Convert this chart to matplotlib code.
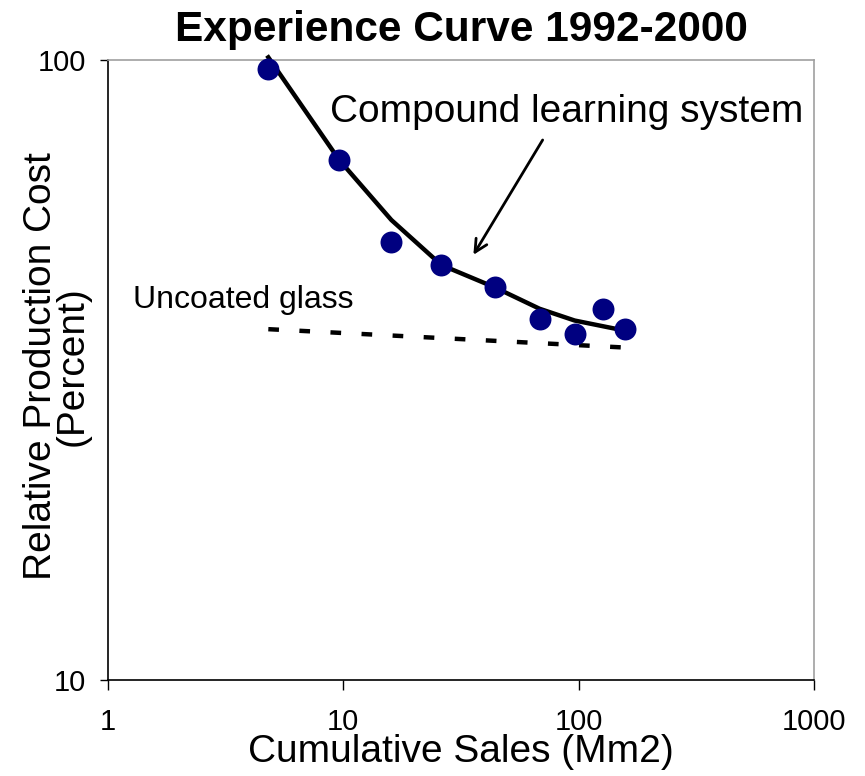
import matplotlib
matplotlib.use("Agg")
import matplotlib.pyplot as plt

plt.rcParams['font.family'] = ['Liberation Sans', 'DejaVu Sans']

# Data
sales_pts = [4.8, 9.6, 16.0, 26.1, 43.9, 68.2, 96.2, 126.5, 157.0]
cost_pts = [96.7, 69.0, 50.9, 46.7, 43.0, 38.2, 36.1, 39.7, 36.8]

curve_sales = [4.8, 9.6, 16.0, 26.1, 43.9, 68.2, 96.2, 157.0]
curve_cost = [101.0, 69.0, 55.2, 46.7, 43.0, 39.7, 38.0, 36.6]

glass_sales = [4.8, 151.0]
glass_cost = [36.8, 34.4]

xticks = [1, 10, 100, 1000]
yticks = [10, 100]

W, H = 865, 776
fig = plt.figure(figsize=(W / 100, H / 100), dpi=100)
ax = fig.add_axes([108 / W, 1 - 680 / H, (814 - 108) / W, (680 - 60) / H])

ax.set_xscale('log')
ax.set_yscale('log')
ax.set_xlim(1, 1000)
ax.set_ylim(10, 100)

ax.plot(curve_sales, curve_cost, color='black', lw=3.2, solid_joinstyle='miter',
        clip_on=False, zorder=2)
ax.plot(glass_sales, glass_cost, color='black', lw=3.2, dashes=(2.4, 4.6),
        zorder=2)
ax.plot(sales_pts, cost_pts, 'o', color='#000080', markersize=15.8,
        markeredgewidth=0, clip_on=False, zorder=3)

ax.text(8.81, 79.4, 'Compound learning system', fontsize=28, ha='left',
        va='baseline')
ax.annotate('', xy=(35.7, 48.5), xytext=(70.3, 74.3),
            arrowprops=dict(arrowstyle='->,head_length=0.9,head_width=0.45',
                            color='black', lw=2.0, shrinkA=0, shrinkB=0))
ax.text(1.28, 39.8, 'Uncoated glass', fontsize=23, ha='left', va='baseline')

ax.set_xticks(xticks)
ax.set_xticklabels([str(v) for v in xticks])
ax.set_yticks(yticks)
ax.set_yticklabels([str(v) for v in yticks])
ax.minorticks_off()
ax.tick_params(axis='x', direction='out', length=7, width=1, pad=13,
               labelsize=21)
ax.tick_params(axis='y', direction='out', length=6, width=1, pad=10,
               labelsize=21)

for s in ['left', 'bottom']:
    ax.spines[s].set_color('black')
    ax.spines[s].set_linewidth(1.2)
for s in ['top', 'right']:
    ax.spines[s].set_color('#a0a0a0')
    ax.spines[s].set_linewidth(1.2)

ax.set_title('Experience Curve 1992-2000', fontsize=30.5, fontweight='bold', pad=14)
ax.set_xlabel('Cumulative Sales (Mm2)', fontsize=28, labelpad=-1)
fig.text(57 / W, 1 - 366 / H, 'Relative Production Cost\n(Percent)', fontsize=28,
         rotation=90, ha='center', va='center', multialignment='center',
         linespacing=0.85)

fig.savefig('out.png', dpi=100)
